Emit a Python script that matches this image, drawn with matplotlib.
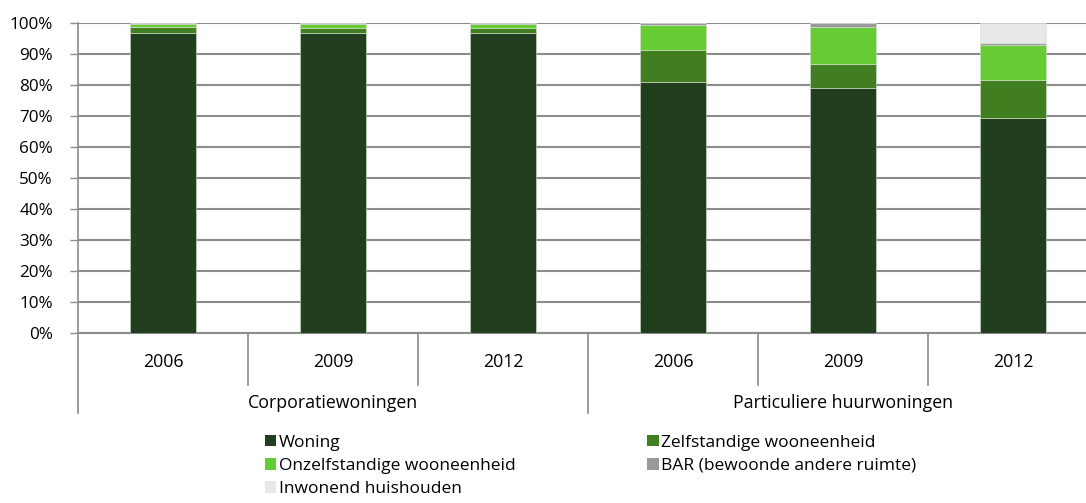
import numpy as np
import matplotlib.pyplot as plt
from matplotlib.patches import Patch
from matplotlib.lines import Line2D

plt.rcParams['font.family'] = ['Open Sans', 'DejaVu Sans']

years = ['2006', '2009', '2012', '2006', '2009', '2012']
groups = ['Corporatiewoningen', 'Particuliere huurwoningen']

# shares in percent, per category
woning = [96.9, 96.9, 96.9, 81.1, 79.1, 69.5]
zelfstandig = [1.8, 1.4, 1.6, 10.3, 7.8, 12.2]
onzelfstandig = [1.0, 1.5, 1.2, 8.1, 11.8, 11.1]
bar_ruimte = [0.2, 0.1, 0.2, 0.5, 1.3, 0.6]
inwonend = [0.1, 0.1, 0.1, 0.0, 0.0, 6.6]

series = [
    ('Woning', woning, '#213f1f'),
    ('Zelfstandige wooneenheid', zelfstandig, '#407e20'),
    ('Onzelfstandige wooneenheid', onzelfstandig, '#66cc33'),
    ('BAR (bewoonde andere ruimte)', bar_ruimte, '#999999'),
    ('Inwonend huishouden', inwonend, '#e8e8e8'),
]

W, H = 1086, 503
fs = 12.8
fig = plt.figure(figsize=(W / 100, H / 100), dpi=100)
# plot area: x 78..1098 px, y 23..333 px (right side runs off the image)
ax = fig.add_axes([78 / W, 1 - 333 / H, 1020 / W, 310 / H])

x = np.arange(len(years))
bottom = np.zeros(len(years))
for name, vals, col in series:
    ax.bar(x, vals, width=0.39, bottom=bottom, color=col, edgecolor='#d8e0d4',
           linewidth=0.4, label=name, zorder=3)
    bottom += np.array(vals)

ax.set_xlim(-0.5, len(years) - 0.5)
ax.set_ylim(0, 100)
ax.set_yticks(np.arange(0, 101, 10))
ax.set_yticklabels([f'{v}%' for v in range(0, 101, 10)], fontsize=12.3)
ax.yaxis.grid(True, color='#8c8c8c', linewidth=1.5, zorder=0)
ax.set_axisbelow(True)
ax.tick_params(axis='y', length=6, width=1, color='#8c8c8c', pad=12)
ax.tick_params(axis='x', length=0, labelbottom=False)
for s in ['top', 'right']:
    ax.spines[s].set_visible(False)
ax.spines['left'].set_color('#8c8c8c')
ax.spines['bottom'].set_color('#8c8c8c')
ax.spines['left'].set_linewidth(1.2)
ax.spines['bottom'].set_linewidth(1.5)

# category axis below the plot
trans = ax.get_xaxis_transform()
px = 1 / 310  # one pixel in axes-y units
for i, yr in enumerate(years):
    ax.text(i, -29 * px, yr, ha='center', va='center', fontsize=fs,
            transform=trans)
for i in range(len(years) + 1):
    depth = 80 if i % 3 == 0 else 52
    ax.add_line(Line2D([i - 0.5, i - 0.5], [0, -depth * px], transform=trans,
                       color='#8c8c8c', linewidth=1.2, clip_on=False))
for g, name in enumerate(groups):
    ax.text(3 * g + 1, -70 * px, name, ha='center', va='center', fontsize=fs,
            transform=trans)

handles = [Patch(facecolor=c, edgecolor='none') for _, _, c in series]
labels = [n for n, _, _ in series]
order = [0, 2, 4, 1, 3]
fig.legend([handles[i] for i in order], [labels[i] for i in order],
           loc='upper left', bbox_to_anchor=(256 / W, 1 - 426 / H), ncol=2,
           frameon=False, fontsize=12.5, handlelength=0.65, handleheight=0.65,
           handletextpad=0.15, labelspacing=0.42, columnspacing=7.6,
           borderpad=0)

fig.savefig('out.png', dpi=100)
